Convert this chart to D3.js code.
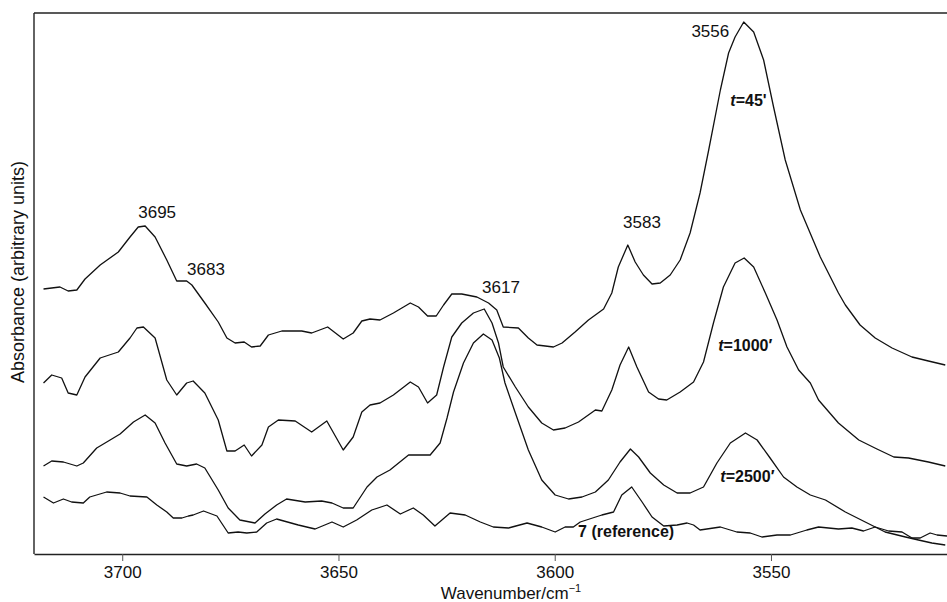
<!DOCTYPE html>
<html>
<head>
<meta charset="utf-8">
<script src="https://cdnjs.cloudflare.com/ajax/libs/d3/7.8.5/d3.min.js"></script>
<style>
    body { margin: 0; background: #fff; }
    svg { font-family: "Liberation Sans", Arial, sans-serif; }
    .curve { fill: none; stroke: #111; stroke-width: 1.3; stroke-linejoin: round; }
    .frame { stroke: #222; stroke-width: 1.4; }
    .peak { font-size: 17px; fill: #111; }
    .tag { font-size: 16px; font-weight: bold; fill: #111; }
</style>
</head>
<body>
<div id="chart"></div>
<script>
// spectra: [wavenumber (cm-1), absorbance (arb.)]
var t45 = [
    [3718.2, 2.65], [3714.4, 2.67], [3712.5, 2.63], [3710.5, 2.64], [3708.6, 2.75],
    [3705.1, 2.89], [3700.9, 3.02], [3698.2, 3.17], [3696.3, 3.27], [3694.7, 3.28],
    [3692.4, 3.17], [3689.7, 2.94], [3687.4, 2.73], [3685.1, 2.73], [3683.9, 2.69],
    [3680.9, 2.51], [3677.8, 2.32], [3675.8, 2.16], [3673.9, 2.11], [3671.8, 2.12],
    [3670.1, 2.07], [3668.1, 2.08], [3666.2, 2.19], [3663.1, 2.23], [3658.5, 2.23],
    [3656.2, 2.21], [3652.5, 2.27], [3648.9, 2.15], [3646.6, 2.21], [3644.6, 2.33],
    [3642.7, 2.35], [3640.4, 2.34], [3637.3, 2.41], [3633.4, 2.51], [3631.5, 2.47],
    [3629.4, 2.38], [3627.4, 2.38], [3625.7, 2.49], [3623.8, 2.60], [3621.5, 2.60],
    [3618.0, 2.57], [3615.3, 2.51], [3613.4, 2.44], [3611.9, 2.27], [3608.4, 2.26],
    [3606.1, 2.16], [3604.1, 2.09], [3600.3, 2.07], [3598.3, 2.11], [3595.3, 2.22],
    [3592.2, 2.34], [3588.7, 2.45], [3586.8, 2.61], [3585.3, 2.87], [3583.1, 3.09],
    [3581.4, 2.92], [3579.5, 2.79], [3577.5, 2.70], [3575.6, 2.71], [3573.3, 2.79],
    [3571.0, 2.94], [3568.7, 3.21], [3566.4, 3.61], [3564.4, 4.04], [3561.7, 4.64],
    [3559.8, 5.01], [3558.3, 5.17], [3556.3, 5.32], [3554.0, 5.22], [3551.7, 4.94],
    [3549.4, 4.47], [3546.7, 3.94], [3543.2, 3.44], [3538.6, 2.97], [3534.4, 2.61],
    [3532.8, 2.49], [3529.4, 2.29], [3525.9, 2.16], [3522.0, 2.06], [3517.4, 1.97],
    [3513.6, 1.93], [3509.7, 1.89]
];

var t1000 = [
    [3718.2, 1.71], [3716.3, 1.79], [3714.0, 1.76], [3712.5, 1.61], [3710.5, 1.59],
    [3708.6, 1.77], [3705.1, 1.96], [3700.9, 2.02], [3698.2, 2.16], [3696.6, 2.26],
    [3695.1, 2.27], [3692.4, 2.16], [3689.7, 1.74], [3687.4, 1.59], [3685.1, 1.71],
    [3683.6, 1.73], [3680.9, 1.61], [3677.8, 1.34], [3675.8, 1.03], [3673.9, 1.03],
    [3671.8, 1.09], [3670.1, 0.98], [3667.7, 1.09], [3666.2, 1.27], [3663.9, 1.34],
    [3660.0, 1.33], [3656.2, 1.22], [3652.7, 1.33], [3648.9, 1.04], [3646.6, 1.17],
    [3644.6, 1.42], [3642.7, 1.49], [3640.4, 1.51], [3637.3, 1.59], [3633.4, 1.72],
    [3631.5, 1.67], [3629.4, 1.51], [3627.3, 1.59], [3625.7, 1.87], [3623.8, 2.17],
    [3621.5, 2.31], [3618.8, 2.41], [3616.3, 2.45], [3614.5, 2.31], [3613.0, 2.11],
    [3611.9, 1.87], [3609.1, 1.67], [3606.1, 1.47], [3603.0, 1.31], [3600.3, 1.24],
    [3597.6, 1.26], [3594.5, 1.32], [3590.6, 1.44], [3589.1, 1.43], [3586.8, 1.64],
    [3584.9, 1.89], [3582.9, 2.07], [3581.0, 1.87], [3578.3, 1.62], [3576.0, 1.55],
    [3574.1, 1.54], [3571.0, 1.62], [3567.9, 1.72], [3565.6, 1.92], [3563.3, 2.31],
    [3561.0, 2.67], [3558.3, 2.91], [3556.2, 2.96], [3554.0, 2.87], [3551.3, 2.61],
    [3548.6, 2.34], [3546.3, 2.07], [3543.6, 1.84], [3540.9, 1.71], [3539.0, 1.54],
    [3534.4, 1.31], [3529.7, 1.14], [3525.5, 1.05], [3521.6, 0.97], [3518.2, 0.96],
    [3513.6, 0.92], [3509.7, 0.88]
];

var t2500 = [
    [3718.2, 0.88], [3716.3, 0.93], [3713.6, 0.92], [3710.5, 0.88], [3709.0, 0.91],
    [3705.9, 1.06], [3702.8, 1.14], [3700.5, 1.20], [3697.4, 1.32], [3694.7, 1.39],
    [3692.4, 1.31], [3690.1, 1.11], [3687.4, 0.90], [3685.1, 0.88], [3682.8, 0.90],
    [3680.9, 0.86], [3677.8, 0.64], [3675.5, 0.46], [3672.8, 0.34], [3669.3, 0.31],
    [3667.0, 0.40], [3664.3, 0.49], [3662.0, 0.55], [3657.7, 0.52], [3653.9, 0.53],
    [3651.5, 0.51], [3648.9, 0.46], [3646.6, 0.46], [3643.4, 0.67], [3641.1, 0.77],
    [3638.1, 0.84], [3633.8, 0.99], [3631.1, 0.99], [3628.8, 0.99], [3626.5, 1.11],
    [3624.9, 1.36], [3623.4, 1.62], [3621.1, 1.91], [3618.8, 2.11], [3616.5, 2.20],
    [3614.5, 2.14], [3612.8, 1.96], [3611.5, 1.71], [3609.1, 1.41], [3606.1, 1.04],
    [3603.0, 0.74], [3599.9, 0.59], [3596.8, 0.55], [3593.7, 0.57], [3590.6, 0.62],
    [3587.6, 0.74], [3584.9, 0.92], [3582.5, 1.05], [3580.6, 0.97], [3577.9, 0.81],
    [3574.8, 0.69], [3571.7, 0.61], [3568.7, 0.61], [3565.6, 0.67], [3562.5, 0.91],
    [3559.4, 1.11], [3555.9, 1.21], [3553.2, 1.14], [3550.2, 0.96], [3547.1, 0.77],
    [3544.0, 0.67], [3540.9, 0.59], [3537.4, 0.54], [3532.8, 0.42], [3528.2, 0.32],
    [3523.6, 0.22], [3518.9, 0.17], [3515.9, 0.14], [3512.8, 0.11], [3509.7, 0.09]
];

var ref7 = [
    [3718.2, 0.57], [3715.9, 0.51], [3713.6, 0.55], [3711.7, 0.52], [3709.0, 0.51],
    [3707.5, 0.57], [3703.6, 0.62], [3700.5, 0.61], [3698.2, 0.58], [3694.3, 0.57],
    [3692.0, 0.49], [3689.7, 0.42], [3688.2, 0.36], [3686.2, 0.36], [3684.7, 0.38],
    [3683.6, 0.39], [3681.2, 0.43], [3678.1, 0.38], [3675.5, 0.21], [3673.2, 0.22],
    [3671.2, 0.21], [3668.9, 0.22], [3666.6, 0.31], [3664.3, 0.35], [3659.3, 0.29],
    [3655.4, 0.25], [3651.5, 0.32], [3648.9, 0.27], [3645.8, 0.34], [3642.3, 0.44],
    [3638.8, 0.49], [3635.7, 0.40], [3632.7, 0.46], [3630.4, 0.39], [3627.7, 0.28],
    [3624.2, 0.41], [3620.7, 0.39], [3617.2, 0.32], [3614.2, 0.27], [3610.7, 0.26],
    [3606.4, 0.31], [3603.0, 0.27], [3599.9, 0.22], [3597.6, 0.27], [3595.7, 0.27],
    [3594.1, 0.32], [3589.1, 0.39], [3586.4, 0.42], [3584.5, 0.59], [3582.2, 0.67],
    [3579.8, 0.52], [3577.5, 0.37], [3574.8, 0.28], [3571.7, 0.29], [3569.4, 0.31],
    [3567.9, 0.29], [3566.4, 0.24], [3561.7, 0.27], [3557.9, 0.22], [3554.8, 0.21],
    [3552.1, 0.17], [3548.6, 0.19], [3545.5, 0.19], [3541.7, 0.24], [3539.0, 0.27],
    [3534.4, 0.25], [3531.3, 0.26], [3528.6, 0.23], [3525.9, 0.27], [3522.8, 0.23],
    [3519.7, 0.22], [3517.4, 0.16], [3515.5, 0.16], [3513.2, 0.21], [3511.6, 0.19],
    [3509.3, 0.18]
];

var xTicks = [3700, 3650, 3600, 3550];

// peak labels: [text, wavenumber at left edge, absorbance at baseline]
var peakLabels = [
    ['3695', 3696.3, 3.36],
    ['3683', 3685.0, 2.79],
    ['3617', 3616.8, 2.61],
    ['3583', 3584.2, 3.26],
    ['3556', 3568.4, 5.17]
];

// curve tags: [italic part or null, rest of text, wavenumber at left edge, absorbance at baseline]
var curveTags = [
    ['t', "=45'", 3559.4, 4.48],
    ['t', "=1000\u2032", 3562.2, 2.03],
    ['t', "=2500\u2032", 3561.7, 0.72],
    [null, '7 (reference)', 3594.6, 0.17]
];

var width = 947,
    height = 602,
    margin = { top: 13, right: 0, bottom: 48, left: 34 };

var svg = d3.select('#chart').append('svg')
    .attr('width', width)
    .attr('height', height);

var x = d3.scaleLinear()
    .domain([3720.4, 3509.3])
    .range([margin.left, width - margin.right]);

var y = d3.scaleLinear()
    .domain([0, 5.41])
    .range([height - margin.bottom, margin.top]);

var line = d3.line()
    .x(function(d) { return x(d[0]); })
    .y(function(d) { return y(d[1]); });

function drawCurve(data) {
    /*
    This function draws one spectrum as a black line.

    data: array of [wavenumber, absorbance]
    */
    svg.append('path')
        .datum(data)
        .attr('class', 'curve')
        .attr('d', line);
}

[t45, t1000, t2500, ref7].forEach(drawCurve);

// frame: left and top lines
var x0 = x.range()[0], x1 = x.range()[1];
var yb = y.range()[0], yt = y.range()[1];
svg.append('line').attr('class', 'frame')
    .attr('x1', x0).attr('x2', x0).attr('y1', yt).attr('y2', yb);
svg.append('line').attr('class', 'frame')
    .attr('x1', x0).attr('x2', x1).attr('y1', yt).attr('y2', yt);

// bottom axis
var xAxis = d3.axisBottom(x)
    .tickValues(xTicks)
    .tickFormat(d3.format('d'))
    .tickSize(7)
    .tickPadding(5)
    .tickSizeOuter(0);

var gx = svg.append('g')
    .attr('transform', 'translate(0,' + yb + ')')
    .call(xAxis);
gx.select('.domain').attr('stroke', '#222').attr('stroke-width', 1.4);
gx.selectAll('.tick line').attr('stroke', '#555');
gx.selectAll('.tick text')
    .attr('fill', '#111')
    .style('font-size', '17px')
    .style('font-family', '"Liberation Sans", Arial, sans-serif');

// axis titles
var xt = svg.append('text')
    .attr('x', 511)
    .attr('y', 599)
    .attr('text-anchor', 'middle')
    .style('font-size', '17px')
    .attr('fill', '#111')
    .text('Wavenumber/cm');
xt.append('tspan')
    .attr('dy', -7)
    .style('font-size', '11px')
    .text('\u22121');

svg.append('text')
    .attr('transform', 'translate(24,272) rotate(-90)')
    .attr('text-anchor', 'middle')
    .style('font-size', '18px')
    .attr('fill', '#111')
    .text('Absorbance (arbitrary units)');

// peak labels
svg.selectAll('.peak')
    .data(peakLabels)
    .enter().append('text')
    .attr('class', 'peak')
    .attr('x', function(d) { return x(d[1]); })
    .attr('y', function(d) { return y(d[2]); })
    .text(function(d) { return d[0]; });

// curve tags
curveTags.forEach(function(d) {
    var t = svg.append('text')
        .attr('class', 'tag')
        .attr('x', x(d[2]))
        .attr('y', y(d[3]));
    if (d[0]) {
        t.append('tspan').style('font-style', 'italic').text(d[0]);
    }
    t.append('tspan').text(d[1]);
});
</script>
</body>
</html>
